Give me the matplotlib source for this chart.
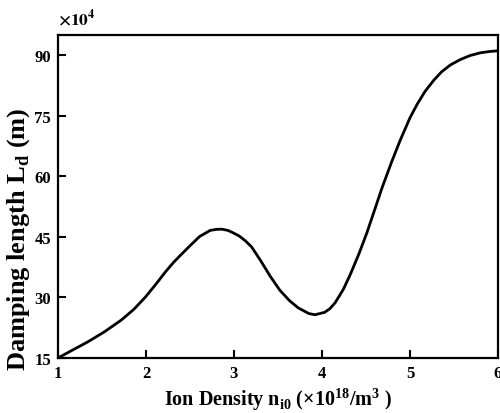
import numpy as np
from matplotlib import pyplot as plt

plt.rcParams['font.family'] = 'Liberation Serif'
plt.rcParams['font.weight'] = 'bold'
plt.rcParams['axes.labelweight'] = 'bold'
plt.rcParams['mathtext.fontset'] = 'custom'
plt.rcParams['mathtext.rm'] = 'Liberation Serif:bold'
plt.rcParams['mathtext.bf'] = 'Liberation Serif:bold'

# ion density (x 10^18 /m^3) and damping length (x 10^4 m)
n_i0 = [1.00, 1.17, 1.34, 1.53, 1.72, 1.86, 1.99, 2.11, 2.22, 2.31, 2.39, 2.50,
        2.61, 2.73, 2.80, 2.86, 2.93, 2.99, 3.06, 3.13, 3.20, 3.30, 3.41, 3.52,
        3.63, 3.73, 3.85, 3.92, 4.03, 4.09, 4.15, 4.24, 4.32, 4.42, 4.51, 4.60,
        4.68, 4.79, 4.89, 5.00, 5.08, 5.17, 5.27, 5.36, 5.46, 5.57, 5.68, 5.80,
        5.90, 6.00]
L_d = [15.0, 17.0, 19.0, 21.5, 24.4, 27.0, 30.0, 33.2, 36.3, 38.6, 40.4, 42.8,
       45.1, 46.6, 46.85, 46.9, 46.6, 46.0, 45.2, 44.0, 42.5, 39.2, 35.3, 31.8,
       29.2, 27.4, 26.0, 25.7, 26.3, 27.2, 28.7, 31.9, 35.6, 40.8, 46.0, 51.8,
       57.0, 63.5, 69.0, 74.5, 77.8, 81.0, 83.8, 85.9, 87.6, 88.9, 89.9, 90.6,
       90.9, 91.1]

x_ticks = [1, 2, 3, 4, 5, 6]
y_ticks = [15, 30, 45, 60, 75, 90]

fig = plt.figure(figsize=(5.0, 4.14), dpi=100)
ax = fig.add_axes([0.116, 0.133, 0.880, 0.780])
ax.plot(n_i0, L_d, color='k', lw=2.0, solid_joinstyle='round')

ax.set_xlim(1, 6)
ax.set_ylim(15, 95)
ax.set_xticks(x_ticks)
ax.set_yticks(y_ticks)
ax.tick_params(direction='in', length=6, width=1.5, labelsize=12, pad=5)
for s in ax.spines.values():
    s.set_linewidth(1.6)

ax.set_xlabel(r'Ion Density n$_{\mathbf{i0}}$ ($\times$10$^{\mathbf{18}}$/m$^{\mathbf{3}}$ )', fontsize=14.5, labelpad=3)
ax.set_ylabel(r'Damping length L$_{\mathbf{d}}$ (m)', fontsize=19)
ax.yaxis.set_label_coords(-0.059, 0.37)
ax.text(0.0, 1.02, r'$\times10^{4}$', transform=ax.transAxes, fontsize=12.5,
        ha='left', va='bottom', math_fontfamily='stix')

fig.savefig('out.png', dpi=100)
